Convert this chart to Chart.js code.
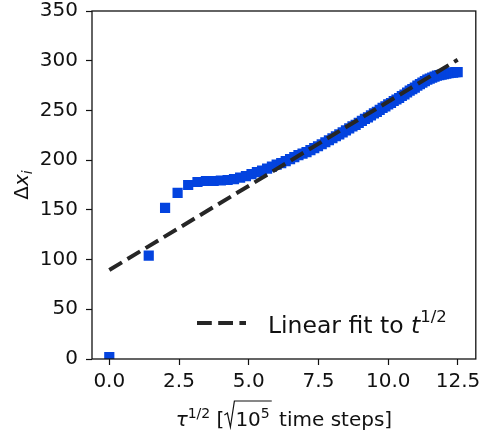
<!DOCTYPE html>
<html>
<head>
<meta charset="utf-8">
<script src="https://cdn.jsdelivr.net/npm/chart.js@4/dist/chart.umd.min.js"></script>
<style>
  html, body { margin: 0; padding: 0; background: #fff; }
  canvas { display: block; }
</style>
</head>
<body>
<canvas id="fitChart" width="483" height="434"></canvas>
<script>
// tick labels
const xTickValues = [0, 2.5, 5, 7.5, 10, 12.5];
const yTickValues = [0, 50, 100, 150, 200, 250, 300, 350];

// measured points: sqrt of lag time vs displacement
const sqrtTime = [
  0, 1.414, 2.000, 2.449, 2.828, 3.162, 3.464, 3.742, 4.000, 4.243,
  4.472, 4.690, 4.899, 5.099, 5.292, 5.477, 5.657, 5.831, 6.000, 6.164,
  6.325, 6.481, 6.633, 6.782, 6.928, 7.071, 7.211, 7.348, 7.483, 7.616,
  7.746, 7.874, 8.000, 8.124, 8.246, 8.367, 8.485, 8.602, 8.718, 8.832,
  8.944, 9.055, 9.165, 9.274, 9.381, 9.487, 9.592, 9.695, 9.798, 9.899,
  10.000, 10.100, 10.198, 10.296, 10.392, 10.488, 10.583, 10.677, 10.770, 10.863,
  10.954, 11.045, 11.136, 11.225, 11.314, 11.402, 11.489, 11.576, 11.662, 11.747,
  11.832, 11.916, 12.000, 12.083, 12.166, 12.247, 12.329, 12.410, 12.490
];
const displacement = [
  2, 104, 152, 167, 175, 178, 179, 179, 179.5, 180,
  181, 182.5, 184, 186, 188, 189.5, 191.5, 193.5, 195.5, 197,
  199, 201, 203, 205, 206.5, 208, 210, 212, 214, 216,
  218, 220, 222, 224, 226, 228, 230, 232, 234, 235.5,
  237.5, 239.5, 241.5, 243, 245, 247, 248.5, 250.5, 252.5, 254,
  256, 257.5, 259.5, 261, 262.5, 264.5, 266, 268, 270, 271.5,
  273, 275, 276.5, 278, 279.5, 281, 282, 283, 284, 285,
  285.5, 286, 286.5, 287, 287.5, 288, 288, 288.5, 288.5
];

// linear fit endpoints
const fitX = [0, 12.49];
const fitY = [89.5, 301];

const textColor = '#111';
const fitColor = '#262626';
const pointColor = '#0343df';
const fam = "'DejaVu Sans', sans-serif";

// draw a run of text pieces (for super/subscripts) starting at x
function drawRun(ctx, parts, x, y) {
  let cx = x;
  parts.forEach(p => {
    ctx.font = p.f;
    const w = ctx.measureText(p.t).width;
    ctx.fillText(p.t, cx, y + (p.dy || 0));
    cx += w;
  });
  return cx;
}
function runWidth(ctx, parts) {
  let w = 0;
  parts.forEach(p => { ctx.font = p.f; w += ctx.measureText(p.t).width; });
  return w;
}

const decorations = {
  id: 'decorations',
  afterDraw(chart) {
    const ctx = chart.ctx;
    const a = chart.chartArea;
    ctx.save();

    // frame
    ctx.strokeStyle = textColor;
    ctx.lineWidth = 1.3;
    ctx.strokeRect(a.left, a.top, a.right - a.left, a.bottom - a.top);

    ctx.fillStyle = textColor;
    ctx.textBaseline = 'alphabetic';
    ctx.textAlign = 'left';

    // x axis title: tau^{1/2} [sqrt(10^5) time steps]
    const r20 = '20px ' + fam, it20 = 'italic 20px ' + fam, r14 = '14px ' + fam;
    const pre = [{t: 'τ', f: it20}, {t: '1/2', f: r14, dy: -8}, {t: ' [', f: r20}];
    const inner = [{t: '10', f: r20}, {t: '5', f: r14, dy: -8}];
    const post = [{t: ' time steps]', f: r20}];
    const radW = 11;
    const total = runWidth(ctx, pre) + radW + runWidth(ctx, inner) + 3 + runWidth(ctx, post);
    const bx = (a.left + a.right) / 2 - total / 2;
    const by = 426;
    const x0 = drawRun(ctx, pre, bx, by);
    const innerStart = x0 + radW;
    const innerEnd = drawRun(ctx, inner, innerStart, by) + 2;
    ctx.beginPath();
    ctx.lineWidth = 1.2;
    ctx.moveTo(x0, by - 11);
    ctx.lineTo(x0 + 3, by - 13);
    ctx.lineTo(x0 + 6, by + 1);
    ctx.lineTo(x0 + 10, by - 25);
    ctx.lineTo(innerEnd, by - 25);
    ctx.stroke();
    drawRun(ctx, post, innerEnd + 1, by);

    // y axis title: Delta x_i
    const yParts = [{t: 'Δ', f: r20}, {t: 'x', f: it20}, {t: 'i', f: 'italic 14px ' + fam, dy: 4}];
    ctx.save();
    ctx.translate(28, (a.top + a.bottom) / 2);
    ctx.rotate(-Math.PI / 2);
    drawRun(ctx, yParts, -runWidth(ctx, yParts) / 2, 0);
    ctx.restore();

    // legend
    ctx.beginPath();
    ctx.strokeStyle = fitColor;
    ctx.lineWidth = 4;
    ctx.setLineDash([14.8, 6.4]);
    ctx.moveTo(197, 323);
    ctx.lineTo(246, 323);
    ctx.stroke();
    ctx.setLineDash([]);
    ctx.fillStyle = textColor;
    drawRun(ctx, [
      {t: 'Linear fit to ', f: '23.5px ' + fam},
      {t: 't', f: 'italic 23.5px ' + fam},
      {t: '1/2', f: '16.5px ' + fam, dy: -11}
    ], 268, 333);

    ctx.restore();
  }
};

const ctx = document.getElementById('fitChart').getContext('2d');
const fitChart = new Chart(ctx, {
  type: 'scatter',
  data: {
    datasets: [
      {
        type: 'line',
        label: 'Linear fit',
        data: fitX.map((x, i) => ({x: x, y: fitY[i]})),
        borderColor: fitColor,
        borderWidth: 4,
        borderDash: [14.8, 6.4],
        pointRadius: 0,
        fill: false,
        order: 0
      },
      {
        label: 'data',
        data: sqrtTime.map((x, i) => ({x: x, y: displacement[i]})),
        pointStyle: 'rect',
        pointRadius: 7.2,
        pointBorderWidth: 0,
        backgroundColor: pointColor,
        borderColor: pointColor,
        clip: 0,
        order: 1
      }
    ]
  },
  options: {
    responsive: false,
    animation: false,
    layout: { padding: { top: 11, right: 5, left: 0, bottom: 0 } },
    plugins: { legend: { display: false }, tooltip: { enabled: false } },
    scales: {
      x: {
        type: 'linear',
        min: -0.62,
        max: 13.14,
        afterBuildTicks: axis => { axis.ticks = xTickValues.map(v => ({value: v})); },
        afterFit: axis => {
          axis.height = 75;
          axis.paddingLeft = 0;
          axis.paddingRight = 0;
        },
        border: { display: false },
        grid: { drawOnChartArea: false, drawTicks: true, tickLength: 6, tickColor: textColor, tickWidth: 1.2 },
        ticks: {
          font: { family: fam, size: 20 },
          color: textColor,
          padding: 5,
          maxRotation: 0,
          autoSkip: false,
          callback: v => v.toFixed(1)
        }
      },
      y: {
        type: 'linear',
        min: 0,
        max: 350,
        afterBuildTicks: axis => { axis.ticks = yTickValues.map(v => ({value: v})); },
        afterFit: axis => {
          axis.width = 92;
          axis.paddingTop = 0;
          axis.paddingBottom = 0;
        },
        border: { display: false },
        grid: { drawOnChartArea: false, drawTicks: true, tickLength: 6, tickColor: textColor, tickWidth: 1.2 },
        ticks: {
          font: { family: fam, size: 20 },
          color: textColor,
          padding: 8,
          autoSkip: false,
          callback: v => String(v)
        }
      }
    }
  },
  plugins: [decorations]
});
</script>
</body>
</html>
